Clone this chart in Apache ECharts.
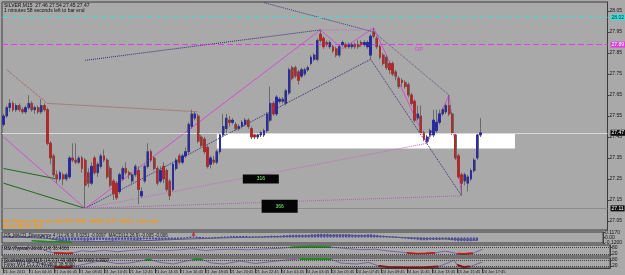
<!DOCTYPE html>
<html>
<head>
<meta charset="utf-8">
<script src="https://cdn.jsdelivr.net/npm/echarts@6/dist/echarts.min.js"></script>
<style>
  html, body { margin: 0; padding: 0; background: #a9a9a9; }
  #chart { width: 625px; height: 275px; }
</style>
</head>
<body>
<div id="chart"></div>
<script>
// SILVER M15 bars: [open, close, low, high]
const ohlc = [
  [27.51,27.55,27.50,27.56],[27.55,27.59,27.54,27.60],[27.59,27.61,27.57,27.63],[27.61,27.58,27.57,27.62],
  [27.58,27.60,27.57,27.61],[27.60,27.58,27.57,27.61],[27.58,27.57,27.56,27.59],[27.57,27.59,27.56,27.60],
  [27.59,27.61,27.58,27.65],[27.61,27.58,27.57,27.62],[27.58,27.59,27.56,27.60],[27.59,27.57,27.56,27.60],
  [27.57,27.60,27.56,27.63],[27.60,27.58,27.57,27.61],[27.58,27.42,27.41,27.59],[27.42,27.35,27.32,27.43],
  [27.36,27.27,27.26,27.37],[27.27,27.25,27.23,27.29],[27.25,27.28,27.24,27.29],[27.27,27.25,27.22,27.28],
  [27.25,27.27,27.24,27.28],[27.26,27.35,27.25,27.36],[27.35,27.34,27.33,27.42],[27.34,27.33,27.32,27.42],
  [27.33,27.35,27.32,27.36],[27.35,27.30,27.28,27.36],[27.34,27.22,27.11,27.35],[27.28,27.23,27.21,27.30],
  [27.23,27.31,27.22,27.33],[27.35,27.28,27.27,27.36],[27.28,27.32,27.26,27.33],[27.31,27.36,27.30,27.37],
  [27.36,27.34,27.33,27.39],[27.34,27.26,27.25,27.35],[27.30,27.22,27.21,27.31],[27.24,27.18,27.15,27.25],
  [27.23,27.16,27.15,27.24],[27.19,27.27,27.18,27.28],[27.25,27.30,27.24,27.31],[27.30,27.28,27.27,27.33],
  [27.28,27.27,27.25,27.29],[27.24,27.27,27.22,27.28],[27.27,27.31,27.26,27.32],[27.29,27.20,27.13,27.31],
  [27.17,27.19,27.16,27.21],[27.24,27.31,27.23,27.32],[27.31,27.38,27.30,27.42],[27.38,27.34,27.33,27.39],
  [27.35,27.30,27.29,27.36],[27.30,27.23,27.22,27.31],[27.24,27.29,27.23,27.31],[27.31,27.25,27.23,27.33],
  [27.29,27.20,27.19,27.30],[27.24,27.17,27.15,27.25],[27.20,27.32,27.19,27.33],[27.30,27.34,27.29,27.35],
  [27.36,27.33,27.32,27.37],[27.33,27.36,27.32,27.37],[27.36,27.38,27.35,27.40],[27.38,27.51,27.37,27.52],
  [27.50,27.56,27.49,27.58],[27.54,27.56,27.53,27.57],[27.55,27.43,27.42,27.56],[27.45,27.41,27.40,27.46],
  [27.44,27.38,27.37,27.45],[27.40,27.31,27.30,27.41],[27.32,27.35,27.30,27.36],[27.34,27.33,27.32,27.36],
  [27.33,27.38,27.32,27.39],[27.38,27.46,27.37,27.47],[27.46,27.50,27.45,27.56],[27.49,27.54,27.46,27.56],
  [27.53,27.52,27.50,27.55],[27.52,27.53,27.51,27.54],[27.51,27.49,27.48,27.52],[27.49,27.50,27.48,27.51],
  [27.50,27.52,27.49,27.53],[27.51,27.53,27.50,27.54],[27.53,27.50,27.49,27.54],[27.49,27.45,27.44,27.50],
  [27.46,27.45,27.44,27.47],[27.45,27.46,27.44,27.47],[27.46,27.47,27.45,27.48],[27.46,27.48,27.45,27.49],
  [27.48,27.56,27.47,27.57],[27.53,27.61,27.52,27.69],[27.61,27.56,27.55,27.62],[27.56,27.64,27.55,27.65],
  [27.62,27.63,27.61,27.64],[27.62,27.63,27.61,27.64],[27.61,27.67,27.60,27.68],[27.66,27.77,27.65,27.78],
  [27.78,27.73,27.72,27.79],[27.78,27.74,27.73,27.79],[27.76,27.72,27.70,27.77],[27.74,27.77,27.73,27.78],
  [27.75,27.77,27.74,27.78],[27.77,27.78,27.76,27.79],[27.80,27.83,27.79,27.84],[27.82,27.84,27.81,27.85],
  [27.82,27.91,27.81,27.92],[27.94,27.91,27.90,27.96],[27.92,27.88,27.87,27.93],[27.90,27.89,27.88,27.91],
  [27.88,27.90,27.87,27.91],[27.88,27.86,27.85,27.89],[27.87,27.84,27.83,27.88],[27.84,27.88,27.83,27.89],
  [27.89,27.90,27.88,27.91],[27.89,27.88,27.87,27.90],[27.88,27.89,27.87,27.90],[27.88,27.89,27.87,27.90],
  [27.89,27.88,27.87,27.90],[27.89,27.88,27.87,27.91],[27.90,27.89,27.88,27.91],[27.89,27.90,27.88,27.91],
  [27.88,27.90,27.87,27.91],[27.84,27.93,27.82,27.94],[27.95,27.93,27.92,27.97],[27.92,27.88,27.87,27.93],
  [27.88,27.83,27.82,27.89],[27.84,27.80,27.79,27.85],[27.83,27.78,27.77,27.84],[27.80,27.77,27.75,27.81],
  [27.80,27.75,27.74,27.81],[27.76,27.74,27.72,27.77],[27.73,27.69,27.68,27.74],[27.72,27.71,27.69,27.73],
  [27.71,27.69,27.68,27.72],[27.70,27.65,27.64,27.71],[27.65,27.61,27.60,27.66],[27.62,27.53,27.52,27.63],
  [27.54,27.56,27.53,27.60],[27.55,27.47,27.46,27.60],[27.47,27.44,27.43,27.48],[27.43,27.45,27.42,27.46],
  [27.46,27.48,27.45,27.49],[27.46,27.53,27.45,27.58],[27.48,27.52,27.47,27.58],[27.52,27.56,27.51,27.58],
  [27.56,27.58,27.55,27.59],[27.57,27.60,27.56,27.61],[27.60,27.56,27.55,27.65],[27.56,27.47,27.46,27.57],
  [27.46,27.35,27.34,27.47],[27.36,27.26,27.25,27.37],[27.27,27.23,27.17,27.28],[27.24,27.27,27.22,27.28],
  [27.23,27.26,27.19,27.27],[27.25,27.29,27.24,27.30],[27.29,27.34,27.28,27.35],[27.35,27.46,27.34,27.47],
  [27.46,27.47,27.45,27.54]
];
const totalSlots = 193;   // bars + empty right shift
const barsPerTick = 8;
const tickLabels = ['21 Jun 2011','21 Jun 04:45','21 Jun 06:45','21 Jun 08:45','21 Jun 10:45','21 Jun 12:45',
  '21 Jun 14:45','21 Jun 16:45','21 Jun 18:45','21 Jun 20:45','21 Jun 22:45','24 Jun 01:45','24 Jun 03:45',
  '24 Jun 05:45','24 Jun 07:45','24 Jun 09:45','24 Jun 11:45','24 Jun 13:45','24 Jun 15:45','24 Jun 17:45'];
const priceTicks = [27.05,27.15,27.25,27.35,27.45,27.55,27.65,27.75,27.85,27.95,28.05];

// drawn objects, [bar, price]
const zigzag = [[0,27.45],[26,27.11],[101,27.96],[108,27.87],[118,27.97],[135,27.42],[142,27.65],[146,27.17]];
const greenUpper = [[0,27.30],[17,27.25]];
const greenLower = [[0,27.23],[26,27.11]];
const brownDots = [[1,27.77],[14,27.61],[62,27.57]];
const blueUp = [[26,27.11],[117,27.82]];
const blueTop = [[26,27.815],[101,27.96]];
const blueFromTop = [[83,28.09],[118,27.95]];
const blueDown = [[117,27.82],[146,27.17]];
const grayDown = [[118,27.95],[142,27.65]];
const pinkUp = [[26,27.11],[135,27.42]];
const pinkFlat = [[26,27.11],[146,27.17]];
const peakLink = [[101,27.96],[118,27.96]];
const zoneBar = [68, 163];
const zonePrice = [27.395, 27.465];

// indicator panels
const macdHist = [
  0.02,0.02,0.03,0.03,0.02,0.02,0.02,0.02,0.03,0.02,0.02,0.01,0.02,0.02,
  -0.01,-0.03,-0.05,-0.06,-0.07,-0.07,-0.08,-0.07,-0.06,
  -0.06,-0.06,-0.06,-0.07,-0.07,-0.06,-0.06,-0.05,-0.05,-0.05,-0.06,-0.06,-0.07,-0.06,-0.05,-0.05,-0.05,-0.05,-0.05,-0.06,-0.06,-0.05,-0.04,
  -0.04,-0.04,-0.04,-0.05,-0.05,-0.05,-0.05,-0.05,-0.04,-0.04,-0.03,-0.03,-0.03,
  -0.01,0.01,0.02,0.01,0.00,-0.01,-0.02,-0.02,-0.02,-0.01,0.00,0.01,
  0.02,0.02,0.03,0.03,0.03,0.03,0.03,0.03,0.02,0.02,0.02,0.02,0.02,0.03,0.03,0.04,0.04,0.04,0.04,0.05,0.05,0.06,0.06,0.06,0.06,0.06,0.06,0.06,0.07,0.07,
  0.08,0.08,0.08,0.08,0.07,0.07,0.07,0.07,0.07,0.07,0.07,0.06,0.06,0.06,0.06,0.06,0.07,0.07,0.06,0.05,
  0.04,0.04,0.03,0.02,0.02,0.01,0.00,-0.01,-0.02,-0.03,
  -0.04,-0.04,-0.05,-0.06,-0.06,-0.06,-0.05,-0.05,-0.05,-0.05,-0.04,-0.04,-0.05,-0.06,-0.07,-0.08,-0.08,-0.08,-0.08,-0.08,-0.07,-0.07
];
const macdSignal = [[0,0.01],[8,0.0],[14,-0.02],[20,-0.08],[30,-0.09],[45,-0.07],[60,-0.03],[75,0.0],[90,0.02],
  [100,0.04],[110,0.05],[120,0.03],[128,0.0],[135,-0.02],[145,-0.04],[152,-0.06]];
const macdGreen = [[9,-0.07],[14,-0.09],[22,-0.1]];
const macdTicks = [-0.12, 0, 0.117];

const rsiLine = [[0,62],[4,66],[8,70],[12,65],[14,42],[16,28],[20,24],[22,27],[25,48],[28,40],[32,52],[36,38],
  [40,50],[45,58],[50,46],[55,54],[60,66],[64,50],[68,58],[72,62],[78,56],[84,66],[88,70],[91,78],[95,82],
  [100,84],[104,80],[108,70],[113,57],[118,62],[122,46],[126,36],[128,28],[131,22],[134,24],[137,28],[140,44],
  [142,34],[144,22],[146,18],[149,25],[152,60]];
const rsiGreen = [[[91,78],[95,82],[100,84],[104,80]]];
const rsiRed = [[[16,28],[20,24],[22,27]], [[128,28],[131,22],[134,24],[137,28]], [[144,22],[146,18],[149,25]]];

const stochLine = [[0,55],[5,70],[10,60],[14,30],[16,12],[20,8],[22,14],[26,40],[31,72],[36,45],[40,50],[46,85],
  [50,55],[54,40],[58,70],[61,88],[63,85],[66,50],[70,40],[75,70],[80,45],[84,60],[89,78],[94,90],[100,92],
  [104,88],[107,50],[112,40],[116,55],[119,20],[122,10],[128,6],[134,8],[138,14],[141,50],[143,80],[144,30],
  [146,10],[148,14],[152,60]];
const stochGreen = [[[45,80],[46,85],[47,81]], [[60,84],[61,88],[63,85]], [[94,90],[100,92],[104,88]]];
const stochRed = [[[16,12],[20,8],[22,14]], [[119,20],[122,10],[128,6],[134,8],[138,14]], [[144,30],[146,10],[148,14]]];
const levels = [20, 80];

const FONT = 'Liberation Sans';
const slots = Array.from({ length: totalSlots }, (_, i) => String(i));
const bull = '#2626a2', bear = '#b02828', wick = '#6a6a6a';

const chart = echarts.init(document.getElementById('chart'));

const grids = [
  { left: 2, width: 608, top: 2, height: 228 },
  { left: 2, width: 608, top: 232, height: 11 },
  { left: 2, width: 608, top: 245, height: 11 },
  { left: 2, width: 608, top: 258, height: 10 }
].map(g => Object.assign(g, { show: true, borderColor: '#3c3c3c', borderWidth: 1, backgroundColor: 'transparent' }));

const showTick = idx => idx % barsPerTick === 0 && idx / barsPerTick < tickLabels.length;

const xAxes = grids.map((g, i) => ({
  type: 'category', gridIndex: i, data: slots, boundaryGap: true,
  axisLine: { show: i === 3, lineStyle: { color: '#3c3c3c' } },
  axisTick: { show: i === 3, interval: showTick, alignWithLabel: true, length: 5, lineStyle: { color: '#3c3c3c' } },
  axisLabel: {
    show: i === 3, interval: showTick, align: 'left', margin: 1.5, fontSize: 4, fontFamily: FONT, color: '#151515',
    formatter: (v, idx) => tickLabels[idx / barsPerTick] || ''
  },
  splitLine: { show: false }
}));

function sideAxis(i, min, max, ticks, fmt) {
  return {
    type: 'value', gridIndex: i, position: 'right', min, max, scale: true,
    axisLine: { show: true, lineStyle: { color: '#3c3c3c' } },
    axisTick: { show: true, length: 2, customValues: ticks, lineStyle: { color: '#3c3c3c' } },
    axisLabel: { show: true, margin: 2, fontSize: 5, fontFamily: FONT, color: '#151515', customValues: ticks, formatter: fmt },
    splitLine: { show: false }
  };
}

const yAxes = [
  sideAxis(0, 27.007, 28.093, priceTicks, v => v.toFixed(2)),
  sideAxis(1, -0.12, 0.12, macdTicks, v => v === 0 ? '0.00' : v.toFixed(4)),
  sideAxis(2, 0, 100, levels, v => String(v)),
  sideAxis(3, 0, 100, levels, v => String(v))
];

function axisBox(text, bg, fg) {
  return { show: true, position: 'end', distance: 3, formatter: text, backgroundColor: bg, color: fg,
    fontSize: 5, fontFamily: FONT, padding: [1, 1, 0, 1] };
}

function trend(data, color, type, width, grid) {
  return {
    type: 'line', xAxisIndex: grid || 0, yAxisIndex: grid || 0, data, showSymbol: false, silent: true,
    lineStyle: { color, type, width: width || 1 }, z: 3, animation: false
  };
}

const series = [
  // gray wicks
  {
    type: 'candlestick', data: ohlc, barWidth: 2.4, z: 4,
    itemStyle: { color: wick, color0: wick, borderColor: wick, borderColor0: wick, borderWidth: 1 },
    markArea: {
      silent: true, itemStyle: { color: '#ffffff' },
      data: [[{ xAxis: zoneBar[0], yAxis: zonePrice[1] }, { xAxis: zoneBar[1], yAxis: zonePrice[0] }]]
    },
    markLine: {
      silent: true, symbol: 'none', animation: false,
      data: [
        { yAxis: 28.02, lineStyle: { color: '#3fdcdc', type: [6, 3], width: 1 }, label: axisBox('28.02', '#3fdcdc', '#103030') },
        { yAxis: 27.89, lineStyle: { color: '#dd40dd', type: [6, 3], width: 1 }, label: axisBox('27.89', '#dd40dd', '#ffffff') },
        { yAxis: 27.47, lineStyle: { color: '#d8d8d8', type: 'solid', width: 1 }, label: axisBox('27.47', '#101010', '#ffffff') },
        { yAxis: 27.11, lineStyle: { color: '#8c8c8c', type: 'solid', width: 1 }, label: axisBox('27.11', '#101010', '#ffffff') }
      ]
    },
    markPoint: {
      silent: true, symbol: 'rect', animation: false,
      itemStyle: { color: '#050505' },
      label: { show: true, color: '#7cff7c', fontSize: 5, fontFamily: FONT },
      data: [
        { coord: [82, 27.25], symbolSize: [36, 9], value: '316' },
        { coord: [88, 27.12], symbolSize: [36, 13], value: '366' }
      ]
    }
  },
  // coloured bodies
  {
    type: 'candlestick', z: 5, barWidth: 1.8,
    data: ohlc.map(([o, c]) => [o, c, Math.min(o, c), Math.max(o, c)]),
    itemStyle: { color: bull, color0: bear, borderColor: bull, borderColor0: bear, borderWidth: 0.8 }
  },
  trend(zigzag, '#d24fd2', 'solid', 1),
  trend(greenUpper, '#1f6a1f', 'solid', 1),
  trend(greenLower, '#1f6a1f', 'solid', 1),
  trend(brownDots, '#a05252', 'dotted', 1),
  trend(blueUp, '#2c2c78', 'dotted', 1),
  trend(blueTop, '#2c2c78', 'dotted', 1),
  trend(blueFromTop, '#3a3a80', 'dotted', 1),
  trend(blueDown, '#2c2c78', 'dotted', 1),
  trend(grayDown, '#555577', 'dotted', 1),
  trend(pinkUp, '#c26ac2', 'dotted', 1),
  trend(pinkFlat, '#b060b0', 'dotted', 1),
  trend(peakLink, '#c26ac2', 'dotted', 1),
  // MACD panel
  {
    type: 'bar', xAxisIndex: 1, yAxisIndex: 1, data: macdHist, barWidth: 2, silent: true,
    itemStyle: { color: 'rgba(0,0,0,0)', borderColor: '#2a2ab4', borderWidth: 0.8 }
  },
  trend(macdSignal, '#585878', 'solid', 1, 1),
  trend(macdGreen, '#1c8c1c', 'solid', 1.6, 1),
  {
    type: 'scatter', xAxisIndex: 1, yAxisIndex: 1, data: [[61, 0.08]], symbol: 'triangle', symbolSize: 4,
    itemStyle: { color: '#d01010' }, silent: true
  },
  // RSI panel
  Object.assign(trend(rsiLine, '#7a64a0', 'solid', 1, 2), {
    markLine: { silent: true, symbol: 'none', label: { show: false }, lineStyle: { color: '#444', type: 'dotted', width: 1 },
      data: levels.map(v => ({ yAxis: v })) }
  }),
  ...rsiGreen.map(s => trend(s, '#1c8c1c', 'solid', 1.8, 2)),
  ...rsiRed.map(s => trend(s, '#c01818', 'solid', 1.8, 2)),
  // Stochastic panel
  Object.assign(trend(stochLine, '#7a64a0', 'solid', 1, 3), {
    markLine: { silent: true, symbol: 'none', label: { show: false }, lineStyle: { color: '#444', type: 'dotted', width: 1 },
      data: levels.map(v => ({ yAxis: v })) }
  }),
  ...stochGreen.map(s => trend(s, '#1c8c1c', 'solid', 1.8, 3)),
  ...stochRed.map(s => trend(s, '#8a0c0c', 'solid', 2, 3))
];

function txt(left, top, text, fill, font) {
  return { type: 'text', left, top, z: 100, silent: true, style: { text, fill, font: font || ('5px ' + FONT) } };
}

chart.setOption({
  backgroundColor: '#a9a9a9',
  animation: false,
  grid: grids,
  xAxis: xAxes,
  yAxis: yAxes,
  series,
  graphic: [
    txt(4, 3, 'SILVER,M15  27.46 27.54 27.45 27.47', '#101010'),
    txt(4, 8, '1 minutes 58 seconds left to bar end', '#101010'),
    txt(415, 46, 'DP', '#dd40dd', '6px ' + FONT),
    txt(3, 218, 'No Pattern Now on SILVER 15M,  WRB_ZUP_INFO_v02.mq4', '#f59a10', 'bold 5.5px ' + FONT),
    txt(3, 223.5, 'Entry Risk: N/A', '#f59a10', 'bold 5.5px ' + FONT),
    txt(4, 233, 'OS_MACD_Divergence 4 (12,26,9) 0.0251 -0.0097  MACD(12,26,9) -0.005 -0.006', '#101010', '4.5px ' + FONT),
    txt(4, 246, 'RSI (Typical) 20.00 (14) 36.4066', '#101010', '4.5px ' + FONT),
    txt(4, 258.5, 'Stochastic Mtf M15 (14,3,3) 49.9884 52.0000 4.3007', '#101010', '4.5px ' + FONT),
    txt(4, 262.5, 'Forex M14 (5,3,3) 40.9600 38.5000', '#101010', '4.5px ' + FONT)
  ]
});
</script>
</body>
</html>
